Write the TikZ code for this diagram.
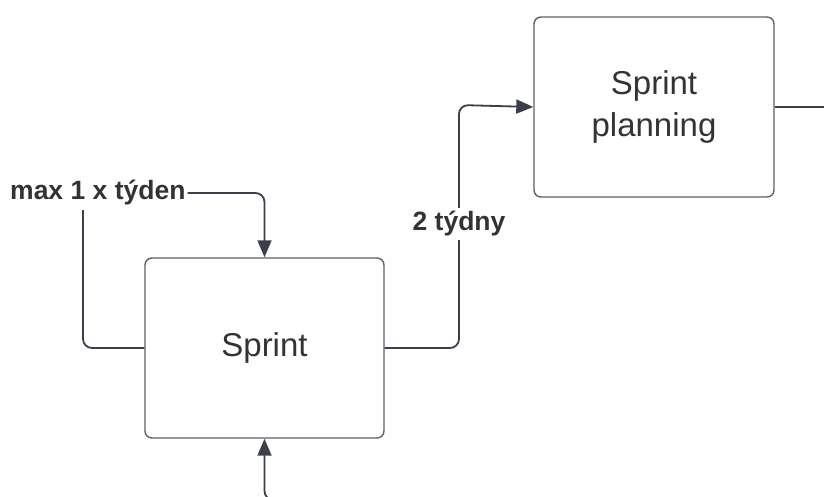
\documentclass[tikz,border=0pt]{standalone}
\usepackage{fontspec}
\setmainfont{Liberation Sans}
\usetikzlibrary{arrows.meta}
\definecolor{edge}{HTML}{3A3F4A}
\definecolor{boxline}{HTML}{5C6068}
\definecolor{ink}{HTML}{333333}
\tikzset{
  stage/.style={draw=boxline, line width=1.4pt, rounded corners=7pt, minimum width=239pt, minimum height=180pt, inner sep=0pt, text=ink, font=\fontsize{33}{42}\selectfont, align=center},
  link/.style={draw=edge, line width=1.8pt, rounded corners=9pt},
  tip/.style={-{Triangle[length=17pt,width=14pt]}},
  lbl/.style={text=ink, font=\bfseries\fontsize{26.5}{30}\selectfont, inner sep=2pt}
}
\begin{document}
\begin{tikzpicture}[x=1pt,y=-1pt]
\useasboundingbox (0,0) rectangle (824,496);
\clip (0,0) rectangle (824,496);

\node[stage] (sprint) at (264.5,348) {Sprint};
\node[stage, minimum width=240pt] (plan) at (654,107) {Sprint\\planning};

\node[lbl, anchor=west] (freq) at (8,193) {max 1 x týden};
\coordinate (freqdrop) at (83,210);
\coordinate (turn) at (459,348);
\coordinate (rise) at (459,105);
\coordinate (below) at (300,500);
\coordinate (out) at (830,107);

% weekly limit into the sprint
\draw[link, tip] (freq.east) -| (sprint.north);
\draw[link] (freqdrop) |- (sprint.west);

% sprint feeds the next planning
\draw[link, tip] (sprint.east) -- (turn) -- (rise) -- (plan.west);
\node[lbl, fill=white, inner sep=4pt] (span) at (459,224) {2 týdny};

% incoming from below and outgoing to the right
\draw[link, tip] (below) -| (sprint.south);
\draw[link] (plan.east) -- (out);
\end{tikzpicture}
\end{document}
